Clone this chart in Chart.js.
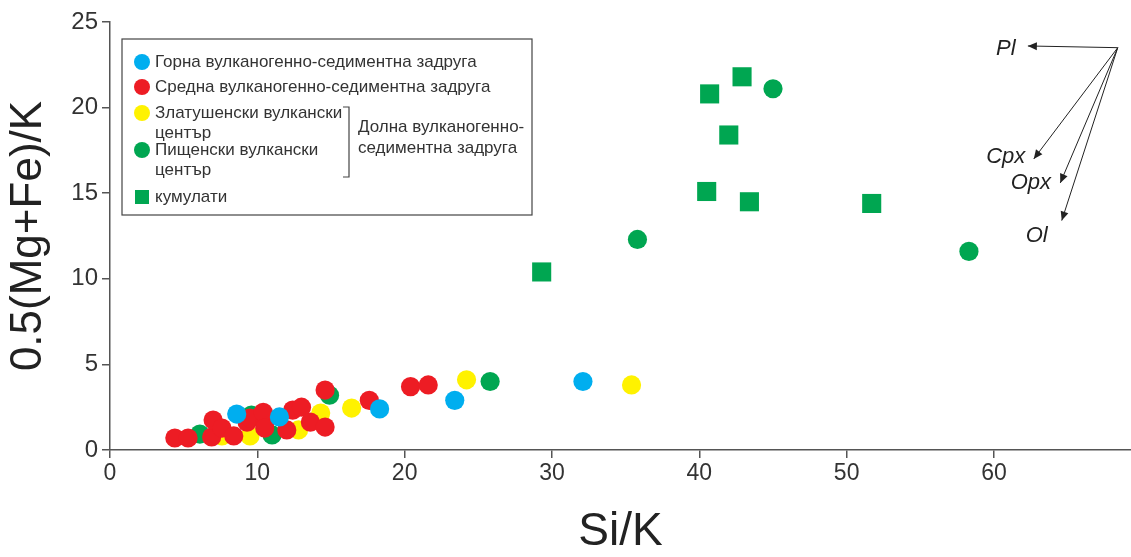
<!DOCTYPE html>
<html>
<head>
<meta charset="utf-8">
<script src="https://cdn.jsdelivr.net/npm/chart.js@4.4.1/dist/chart.umd.min.js"></script>
<style>
  html, body { margin: 0; padding: 0; background: #fff; }
  #wrap { width: 1131px; height: 557px; }
</style>
</head>
<body>
<div id="wrap"><canvas id="chart" width="1131" height="557"></canvas></div>
<script>
// Si/K values (x) and 0.5(Mg+Fe)/K values (y) per group
const upperX = [8.6, 11.5, 18.3, 23.4, 32.1];
const upperY = [2.1, 1.93, 2.4, 2.9, 4.0];

const middleX = [4.4, 5.3, 6.9, 7.0, 7.6, 8.4, 9.3, 9.5, 10.5, 10.4, 10.5, 12.0, 12.4, 13.0, 13.6, 14.6, 14.6, 17.6, 20.4, 21.6];
const middleY = [0.7, 0.7, 0.76, 1.75, 1.28, 0.82, 1.63, 1.87, 1.58, 2.2, 1.28, 1.17, 2.33, 2.5, 1.63, 1.34, 3.5, 2.9, 3.7, 3.8];

const zlatX = [7.6, 9.5, 12.8, 14.3, 16.4, 24.2, 35.4];
const zlatY = [0.82, 0.82, 1.17, 2.16, 2.45, 4.1, 3.8];

const pishX = [6.1, 9.6, 11.0, 14.9, 25.8, 35.8, 45.0, 58.3];
const pishY = [0.93, 2.04, 0.88, 3.2, 4.0, 12.3, 21.1, 11.6];

const cumX = [29.3, 40.7, 42.9, 42.0, 40.5, 43.4, 51.7];
const cumY = [10.4, 20.8, 21.8, 18.4, 15.1, 14.5, 14.4];

const xTicks = [0, 10, 20, 30, 40, 50, 60];
const yTicks = [0, 5, 10, 15, 20, 25];

// mineral vectors: [label, tipX, tipY, labelX, labelY]
const vecOrigin = [68.4, 23.5];
const vectors = [
  ["Pl", 62.3, 23.6, 60.8, 23.45],
  ["Cpx", 62.7, 17.0, 60.8, 17.15],
  ["Opx", 64.5, 15.6, 62.5, 15.6],
  ["Ol", 64.6, 13.4, 62.9, 12.5],
];

const BLUE = "#00aeef";
const RED = "#ed1c24";
const YELLOW = "#fff200";
const GREEN = "#00a651";
const AXIS = "#555";

const pts = (xs, ys) => xs.map((x, i) => ({ x, y: ys[i] }));

function circleSet(label, xs, ys, color, order) {
  return {
    label,
    data: pts(xs, ys),
    backgroundColor: color,
    borderWidth: 0,
    pointStyle: "circle",
    pointRadius: 9.6,
    pointHoverRadius: 9.6,
    order,
  };
}

const legendItems = [
  { color: BLUE, lines: ["Горна вулканогенно-седиментна задруга"] },
  { color: RED, lines: ["Средна вулканогенно-седиментна задруга"] },
  { color: YELLOW, lines: ["Златушенски вулкански", "център"] },
  { color: GREEN, lines: ["Пищенски вулкански", "център"] },
  { color: GREEN, lines: ["кумулати"], square: true },
];

const legendBox = {
  id: "legendBox",
  afterDraw(chart) {
    const { ctx, chartArea } = chart;
    const x0 = chartArea.left + 12;
    const y0 = chartArea.top + 17;
    ctx.save();
    ctx.strokeStyle = "#444";
    ctx.lineWidth = 1.2;
    ctx.fillStyle = "#fff";
    ctx.fillRect(x0, y0, 410, 176);
    ctx.strokeRect(x0, y0, 410, 176);

    ctx.font = "17px 'Liberation Sans', Arial, sans-serif";
    ctx.textBaseline = "middle";
    const rows = [23, 48, 74, 111, 158];
    legendItems.forEach((it, i) => {
      const cy = y0 + rows[i];
      ctx.fillStyle = it.color;
      if (it.square) {
        ctx.fillRect(x0 + 13, cy - 7, 14, 14);
      } else {
        ctx.beginPath();
        ctx.arc(x0 + 20, cy, 8, 0, Math.PI * 2);
        ctx.fill();
      }
      ctx.fillStyle = "#333";
      it.lines.forEach((t, j) => ctx.fillText(t, x0 + 33, cy + j * 20));
    });

    // bracket for the lower group
    const bx = x0 + 227;
    ctx.strokeStyle = "#444";
    ctx.lineWidth = 1.2;
    ctx.beginPath();
    ctx.moveTo(bx - 6, y0 + 68);
    ctx.lineTo(bx, y0 + 68);
    ctx.lineTo(bx, y0 + 138);
    ctx.lineTo(bx - 6, y0 + 138);
    ctx.stroke();
    ctx.fillStyle = "#333";
    ctx.fillText("Долна вулканогенно-", bx + 9, y0 + 88);
    ctx.fillText("седиментна задруга", bx + 9, y0 + 109);
    ctx.restore();
  },
};

function arrowHead(ctx, x1, y1, x2, y2) {
  const a = Math.atan2(y2 - y1, x2 - x1);
  const len = 9, w = 4;
  ctx.beginPath();
  ctx.moveTo(x2, y2);
  ctx.lineTo(x2 - len * Math.cos(a) + w * Math.sin(a), y2 - len * Math.sin(a) - w * Math.cos(a));
  ctx.lineTo(x2 - len * Math.cos(a) - w * Math.sin(a), y2 - len * Math.sin(a) + w * Math.cos(a));
  ctx.closePath();
  ctx.fill();
}

const mineralVectors = {
  id: "mineralVectors",
  afterDraw(chart) {
    const { ctx } = chart;
    const sx = chart.scales.x, sy = chart.scales.y;
    const ox = sx.getPixelForValue(vecOrigin[0]);
    const oy = sy.getPixelForValue(vecOrigin[1]);
    ctx.save();
    ctx.strokeStyle = "#222";
    ctx.fillStyle = "#222";
    ctx.lineWidth = 1;
    ctx.font = "italic 22px 'Liberation Sans', Arial, sans-serif";
    ctx.textAlign = "center";
    ctx.textBaseline = "middle";
    for (const [label, tx, ty, lx, ly] of vectors) {
      const px = sx.getPixelForValue(tx), py = sy.getPixelForValue(ty);
      ctx.beginPath();
      ctx.moveTo(ox, oy);
      ctx.lineTo(px, py);
      ctx.stroke();
      arrowHead(ctx, ox, oy, px, py);
      ctx.fillText(label, sx.getPixelForValue(lx), sy.getPixelForValue(ly));
    }
    ctx.restore();
  },
};

new Chart(document.getElementById("chart"), {
  type: "scatter",
  data: {
    datasets: [
      circleSet("Горна вулканогенно-седиментна задруга", upperX, upperY, BLUE, 1),
      circleSet("Средна вулканогенно-седиментна задруга", middleX, middleY, RED, 2),
      circleSet("Пищенски вулкански център", pishX, pishY, GREEN, 3),
      circleSet("Златушенски вулкански център", zlatX, zlatY, YELLOW, 4),
      {
        label: "кумулати",
        data: pts(cumX, cumY),
        backgroundColor: GREEN,
        borderWidth: 0,
        pointStyle: "rect",
        pointRadius: 13.5,
        pointHoverRadius: 13.5,
        order: 0,
      },
    ],
  },
  options: {
    responsive: false,
    animation: false,
    devicePixelRatio: 1,
    layout: { autoPadding: false, padding: { top: 22, right: 0, left: 0, bottom: 0 } },
    plugins: { legend: { display: false }, tooltip: { enabled: false } },
    scales: {
      x: {
        type: "linear",
        min: 0,
        max: 69.3,
        afterBuildTicks: (s) => { s.ticks = xTicks.map((v) => ({ value: v })); },
        afterFit: (s) => { s.height = 107; },
        border: { color: AXIS, width: 1.5 },
        grid: { drawOnChartArea: false, tickLength: 8, color: AXIS, lineWidth: 1.5 },
        ticks: {
          color: "#333",
          padding: 2,
          maxRotation: 0,
          font: { family: "'Liberation Sans Narrow', 'Liberation Sans', Arial", size: 23 },
        },
        title: {
          display: true,
          text: "Si/K",
          color: "#222",
          padding: { top: 0, bottom: 2 },
          font: { family: "'Liberation Sans', Arial", size: 46, lineHeight: 1 },
        },
      },
      y: {
        type: "linear",
        min: 0,
        max: 25,
        afterBuildTicks: (s) => { s.ticks = yTicks.map((v) => ({ value: v })); },
        afterFit: (s) => { s.width = 110; },
        border: { color: AXIS, width: 1.5 },
        grid: { drawOnChartArea: false, tickLength: 8, color: AXIS, lineWidth: 1.5 },
        ticks: {
          color: "#333",
          padding: 4,
          font: { family: "'Liberation Sans', Arial", size: 24 },
        },
        title: {
          display: true,
          text: "0.5(Mg+Fe)/K",
          color: "#222",
          padding: { top: 7, bottom: 0 },
          font: { family: "'Liberation Sans', Arial", size: 44, lineHeight: 1 },
        },
      },
    },
  },
  plugins: [legendBox, mineralVectors],
});
</script>
</body>
</html>
